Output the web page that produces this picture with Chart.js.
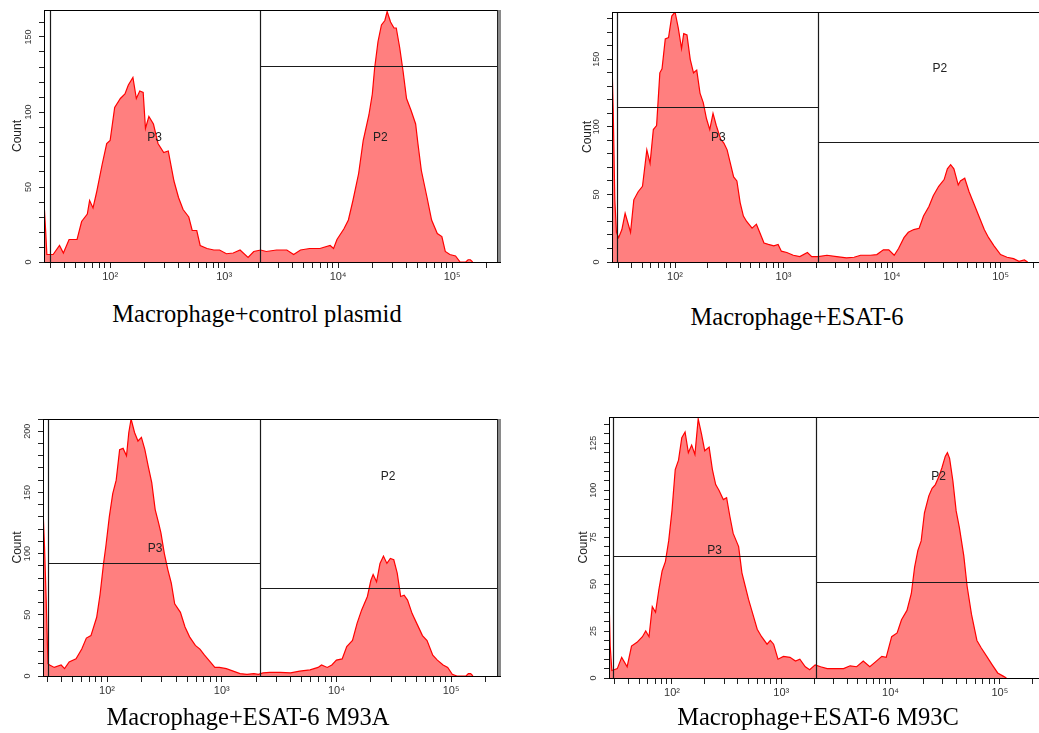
<!DOCTYPE html>
<html lang="en">
<head>
<meta charset="UTF-8">
<title>Macrophage flow cytometry histograms</title>
<script src="https://cdn.jsdelivr.net/npm/chart.js"></script>
<style>
    body {
        margin: 0;
        background: #fff;
        width: 1039px;
        height: 733px;
        overflow: hidden;
        position: relative;
        font-family: Arial, sans-serif;
    }
    .panel {
        position: absolute;
    }
    .caption {
        position: absolute;
        font-family: "Liberation Serif", "Times New Roman", serif;
        font-size: 24.5px;
        color: #000;
        white-space: nowrap;
        transform: translateX(-50%);
    }
</style>
</head>
<body>
<div class="panel" id="p0"><canvas id="c0"></canvas></div>
<div class="panel" id="p1"><canvas id="c1"></canvas></div>
<div class="panel" id="p2"><canvas id="c2"></canvas></div>
<div class="panel" id="p3"><canvas id="c3"></canvas></div>

<div class="caption" style="left:257px; top:300px;">Macrophage+control plasmid</div>
<div class="caption" style="left:797px; top:303px;">Macrophage+ESAT-6</div>
<div class="caption" style="left:248px; top:703px;">Macrophage+ESAT-6 M93A</div>
<div class="caption" style="left:818px; top:703px;">Macrophage+ESAT-6 M93C</div>

<script>
const controlLog = [1.424, 1.435, 1.445, 1.47, 1.50, 1.556, 1.59, 1.64, 1.71, 1.75, 1.80, 1.82, 1.85, 1.88, 1.93, 1.97, 2.00, 2.04, 2.09, 2.13,
    2.16, 2.20, 2.23, 2.26, 2.29, 2.31, 2.34, 2.38, 2.42, 2.47, 2.51, 2.56, 2.60, 2.64, 2.69, 2.72, 2.76, 2.79, 2.85, 2.91,
    2.96, 3.02, 3.08, 3.14, 3.21, 3.26, 3.32, 3.37, 3.46, 3.55, 3.61, 3.67, 3.75, 3.84, 3.93, 3.96, 3.99, 4.05, 4.09, 4.13,
    4.18, 4.22, 4.27, 4.30, 4.32, 4.35, 4.38, 4.41, 4.43, 4.46, 4.49, 4.51, 4.54, 4.57, 4.60, 4.64, 4.68, 4.70, 4.73, 4.78,
    4.82, 4.87, 4.91, 4.94, 4.98, 5.03, 5.07, 5.12, 5.14, 5.16, 5.18];
const controlCount = [35, 20, 5, 5, 5, 11, 6, 15, 15, 27, 32, 41, 36, 46, 65, 79, 81, 103, 109, 112,
    118, 123, 109, 114, 113, 89, 97, 92, 79, 73, 74, 54, 43, 35, 30, 21, 21, 11, 9, 8,
    8, 5.5, 6, 8, 3, 7, 8, 7, 8, 8, 5, 8, 9, 9, 11, 9, 15, 22, 28, 41,
    59, 81, 98, 112, 129, 147, 158, 161, 167, 160, 156, 156, 143, 127, 109, 101, 92, 79, 61, 43,
    28, 19, 17, 7, 5, 4, 0, 0, 1.5, 1.5, 0];

const esatLog = [1.42, 1.43, 1.445, 1.46, 1.48, 1.51, 1.54, 1.59, 1.62, 1.66, 1.70, 1.74, 1.77, 1.80, 1.83, 1.86, 1.88, 1.91, 1.94, 1.97,
    2.00, 2.03, 2.06, 2.08, 2.11, 2.14, 2.17, 2.20, 2.23, 2.26, 2.29, 2.32, 2.35, 2.38, 2.42, 2.45, 2.48, 2.51, 2.54, 2.57,
    2.60, 2.63, 2.66, 2.71, 2.75, 2.78, 2.82, 2.86, 2.91, 2.95, 2.98, 3.03, 3.09, 3.15, 3.22, 3.26, 3.32, 3.40, 3.49, 3.58,
    3.65, 3.71, 3.80, 3.86, 3.92, 3.97, 4.02, 4.06, 4.11, 4.15, 4.20, 4.25, 4.29, 4.34, 4.38, 4.43, 4.48, 4.51, 4.54, 4.57,
    4.61, 4.63, 4.67, 4.71, 4.75, 4.80, 4.85, 4.89, 4.94, 5.00, 5.06, 5.12, 5.17, 5.22, 5.25];
const esatCount = [145, 113, 46, 22, 18, 24, 36, 22, 46, 52, 56, 83, 73, 98, 101, 140, 143, 165, 166, 182,
    185, 173, 158, 169, 168, 150, 140, 142, 125, 118, 106, 98, 110, 101, 91, 88, 83, 73, 63, 60,
    44, 34, 30, 25, 28, 22, 14, 13, 12, 13, 8, 7, 5, 4, 7, 4, 4, 5, 4, 3,
    3.5, 5, 5, 5.5, 9, 9, 5, 10, 18, 22, 24, 25, 34, 41, 49, 56, 61, 69, 72, 69,
    57, 60, 62, 52, 44, 34, 24, 18, 12, 5.5, 3.5, 2.5, 0.5, 1.5, 0];

const m93aLog = [1.442, 1.455, 1.47, 1.485, 1.50, 1.54, 1.60, 1.63, 1.67, 1.73, 1.78, 1.82, 1.86, 1.91, 1.94, 1.97, 1.99, 2.02, 2.05, 2.08,
    2.11, 2.14, 2.17, 2.19, 2.21, 2.24, 2.27, 2.30, 2.33, 2.36, 2.39, 2.42, 2.45, 2.47, 2.50, 2.53, 2.56, 2.59, 2.64, 2.68,
    2.72, 2.77, 2.81, 2.85, 2.90, 2.94, 2.98, 3.04, 3.10, 3.16, 3.22, 3.28, 3.32, 3.36, 3.42, 3.51, 3.60, 3.68, 3.77, 3.84,
    3.87, 3.92, 3.96, 4.00, 4.05, 4.09, 4.14, 4.18, 4.22, 4.27, 4.30, 4.32, 4.35, 4.38, 4.41, 4.44, 4.47, 4.50, 4.53, 4.56,
    4.59, 4.62, 4.66, 4.70, 4.75, 4.79, 4.84, 4.88, 4.93, 4.97, 5.01, 5.05, 5.13, 5.15, 5.17, 5.19];
const m93aCount = [137, 106, 62, 10, 9, 7, 9, 6, 11.5, 14, 22, 31, 33, 48, 67, 92, 106, 130, 149, 160,
    185, 186, 180, 199, 210, 199, 192, 195, 185, 171, 158, 136, 125, 117, 100, 87, 76, 59, 52, 40,
    32, 25, 22, 17, 11.5, 7, 7, 6, 4, 2, 1.4, 2, 1.4, 2.5, 3, 3, 2.5, 4, 5, 7,
    9, 7, 9, 13, 14, 24, 29, 43, 54, 65, 78, 83, 77, 92, 98, 92, 96, 95, 84, 65,
    66, 62, 51, 43, 33, 29, 17, 13, 9, 7, 1.4, 0, 0, 2, 2, 0];

const m93cLog = [1.42, 1.435, 1.45, 1.47, 1.50, 1.54, 1.59, 1.63, 1.68, 1.73, 1.76, 1.79, 1.82, 1.85, 1.88, 1.91, 1.94, 1.97, 2.00, 2.03,
    2.06, 2.09, 2.12, 2.15, 2.18, 2.21, 2.24, 2.27, 2.30, 2.34, 2.37, 2.40, 2.43, 2.47, 2.50, 2.53, 2.56, 2.61, 2.64, 2.67,
    2.70, 2.73, 2.78, 2.82, 2.87, 2.90, 2.93, 2.97, 3.02, 3.08, 3.13, 3.17, 3.22, 3.26, 3.31, 3.36, 3.42, 3.51, 3.57, 3.63,
    3.69, 3.75, 3.81, 3.87, 3.92, 3.96, 4.01, 4.06, 4.10, 4.15, 4.19, 4.22, 4.25, 4.28, 4.31, 4.35, 4.38, 4.41, 4.44, 4.47,
    4.50, 4.52, 4.54, 4.57, 4.60, 4.63, 4.67, 4.70, 4.74, 4.79, 4.83, 4.88, 4.93, 4.98, 5.03, 5.06];
const m93cCount = [53, 17, 4, 4.4, 5, 11, 6, 17, 19, 22, 25, 22, 38, 35, 47, 57, 62, 73, 89, 111,
    116, 128, 131, 120, 124, 119, 138, 130, 121, 123, 111, 103, 100, 95, 96, 86, 77, 70, 56, 49,
    42, 36, 26, 22, 18, 20, 18, 10, 11.5, 11, 9, 10, 6, 4.4, 7, 6, 5, 5, 5, 6.5,
    6, 9, 6, 9, 11.5, 11, 22, 24, 31, 36, 45, 59, 68, 73, 88, 97, 101, 103, 107, 112,
    118, 120, 117, 105, 89, 80, 65, 49, 34, 20, 16, 11.5, 7, 2.7, 1, 0];

// x axis ticks (log decades with minor ticks) and their labels
const xTickValues = [30, 40, 50, 60, 70, 80, 90, 100, 200, 300, 400, 500, 600, 700, 800, 900,
    1000, 2000, 3000, 4000, 5000, 6000, 7000, 8000, 9000, 10000, 20000, 30000, 40000, 50000,
    60000, 70000, 80000, 90000, 100000, 200000];
const xTickLabels = {100: '10²', 1000: '10³', 10000: '10⁴', 100000: '10⁵'};

// per panel: axis ranges, y ticks, gates and region labels
const panelLogs = [controlLog, esatLog, m93aLog, m93cLog];
const panelCounts = [controlCount, esatCount, m93aCount, m93cCount];
const xMinLog = [1.42, 1.419, 1.442, 1.424];
const xMaxLog = [5.42, 5.419, 5.426, 5.422];
const yMax = [168, 185, 210, 139];
const yStep = [10, 10, 10, 5];
const yLabelEvery = [50, 50, 50, 25];
const gateLeft = [1.47, 1.465, 1.486, 1.46];
const gateSplit = [3.316, 3.32, 3.33, 3.32];
const gateP3 = [null, 115, 92.6, 65];
const gateP2 = [131, 89, 72, 51];
const labelP3 = [[2.39, 83], [2.40, 92], [2.42, 104], [2.39, 68]];
const labelP2 = [[4.37, 83], [4.44, 143], [4.45, 163], [4.44, 107]];

// page layout of each plot (pixels)
const origin = [[0, 0], [560, 0], [0, 400], [560, 400]];
const plotBox = [
    {l: 44, t: 10, r: 500, b: 262},
    {l: 612, t: 12, r: 1046, b: 262},
    {l: 43, t: 419, r: 500, b: 676},
    {l: 609, t: 417, r: 1046, b: 678}
];
const titlePad = [10, 20, 10, 16];
const edgeBar = [true, false, true, false];

const gatePlugin = {
    id: 'gates',
    afterDatasetsDraw(chart, args, opts) {
        const {ctx, chartArea: a, scales: {x, y}} = chart;
        const i = opts.index;
        const px = v => x.getPixelForValue(Math.pow(10, v));
        ctx.save();
        ctx.strokeStyle = '#1a1a1a';
        ctx.lineWidth = 1.2;
        ctx.beginPath();
        const gl = Math.round(px(gateLeft[i])) + 0.5;
        const gs = Math.round(px(gateSplit[i])) + 0.5;
        ctx.moveTo(gl, a.top); ctx.lineTo(gl, a.bottom);
        ctx.moveTo(gs, a.top); ctx.lineTo(gs, a.bottom);
        if (gateP3[i] !== null) {
            const yy = Math.round(y.getPixelForValue(gateP3[i])) + 0.5;
            ctx.moveTo(gl, yy); ctx.lineTo(gs, yy);
        }
        const y2 = Math.round(y.getPixelForValue(gateP2[i])) + 0.5;
        ctx.moveTo(gs, y2); ctx.lineTo(a.right, y2);
        ctx.stroke();

        // frame
        ctx.lineWidth = 1;
        ctx.strokeStyle = '#000';
        ctx.strokeRect(a.left + 0.5, a.top + 0.5, a.right - a.left, a.bottom - a.top);
        if (edgeBar[i]) {
            ctx.fillStyle = '#8a8a8a';
            ctx.fillRect(a.right - 2, a.top, 3, a.bottom - a.top);
            ctx.fillStyle = '#222';
            ctx.fillRect(a.right - 3, a.top, 1, a.bottom - a.top);
        }

        ctx.fillStyle = '#222';
        ctx.font = '12px Arial';
        ctx.textAlign = 'center';
        ctx.textBaseline = 'middle';
        ctx.fillText('P3', px(labelP3[i][0]), y.getPixelForValue(labelP3[i][1]));
        ctx.fillText('P2', px(labelP2[i][0]), y.getPixelForValue(labelP2[i][1]));
        ctx.restore();
    }
};

for (let i = 0; i < 4; i++) {
    const box = plotBox[i];
    const [ox, oy] = origin[i];
    const holder = document.getElementById('p' + i);
    holder.style.left = ox + 'px';
    holder.style.top = oy + 'px';
    holder.style.width = (box.r - ox + 10) + 'px';
    holder.style.height = (box.b - oy + 30) + 'px';

    const points = panelLogs[i].map((e, k) => ({x: Math.pow(10, e), y: panelCounts[i][k]}));

    new Chart(document.getElementById('c' + i), {
        type: 'line',
        data: {
            datasets: [{
                data: points,
                borderColor: 'rgb(255, 0, 0)',
                backgroundColor: 'rgba(255, 0, 0, 0.5)',
                borderWidth: 1.2,
                pointRadius: 0,
                tension: 0,
                fill: 'origin'
            }]
        },
        options: {
            responsive: true,
            maintainAspectRatio: false,
            animation: false,
            layout: {padding: {top: box.t - oy, right: 10, left: 0, bottom: 0}},
            plugins: {
                legend: {display: false},
                tooltip: {enabled: false},
                gates: {index: i}
            },
            scales: {
                x: {
                    type: 'logarithmic',
                    min: Math.pow(10, xMinLog[i]),
                    max: Math.pow(10, xMaxLog[i]),
                    afterBuildTicks: s => { s.ticks = xTickValues.map(v => ({value: v})); },
                    afterFit: s => { s.height = 30; },
                    grid: {drawOnChartArea: false, tickLength: 6, color: '#222'},
                    border: {color: '#000'},
                    ticks: {
                        autoSkip: false, maxRotation: 0, padding: 2, color: '#333',
                        font: {family: 'Arial', size: 11},
                        callback: v => xTickLabels[v] || ''
                    }
                },
                y: {
                    min: 0,
                    max: yMax[i],
                    afterFit: s => { s.width = box.l - ox; },
                    grid: {drawOnChartArea: false, tickLength: 5, color: '#222'},
                    border: {color: '#000'},
                    ticks: {
                        stepSize: yStep[i], includeBounds: false, autoSkip: false,
                        minRotation: 90, maxRotation: 90, crossAlign: 'center',
                        padding: 3, color: '#333',
                        font: {family: 'Arial', size: 9},
                        callback: v => (v % yLabelEvery[i] === 0 ? v : '')
                    },
                    title: {
                        display: true, text: 'Count', color: '#222',
                        font: {family: 'Arial', size: 12},
                        padding: {top: titlePad[i], bottom: 0}
                    }
                }
            }
        },
        plugins: [gatePlugin]
    });
}
</script>
</body>
</html>
